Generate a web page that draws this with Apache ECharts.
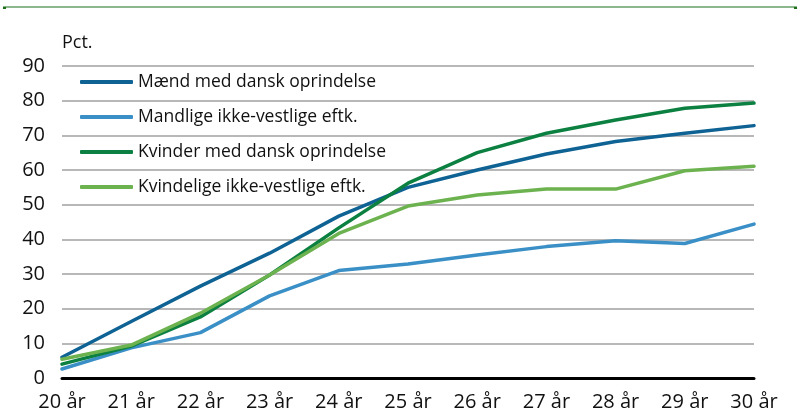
<!DOCTYPE html>
<html>
<head>
<meta charset="utf-8">
<script src="https://cdn.jsdelivr.net/npm/echarts@6/dist/echarts.min.js"></script>
<style>
  html, body { margin: 0; padding: 0; background: #fff; }
  #chart { width: 800px; height: 419px; }
</style>
</head>
<body>
<div id="chart"></div>
<script>
const ages = ['20 år', '21 år', '22 år', '23 år', '24 år', '25 år', '26 år', '27 år', '28 år', '29 år', '30 år']
const maendDansk = [6.0, 16.3, 26.5, 36.0, 46.7, 55.0, 60.0, 64.6, 68.2, 70.6, 72.8]
const maendIkkeVestlige = [2.6, 8.7, 13.1, 23.7, 31.0, 32.9, 35.5, 37.9, 39.6, 38.8, 44.4]
const kvinderDansk = [4.0, 9.2, 17.6, 29.7, 43.3, 56.2, 65.0, 70.6, 74.4, 77.8, 79.3]
const kvinderIkkeVestlige = [5.4, 9.5, 18.7, 29.7, 41.7, 49.6, 52.8, 54.5, 54.5, 59.8, 61.1]

const font = 'Open Sans'
const lineDefault = {
  type: 'line',
  symbol: 'none',
  smooth: false,
}
const mk = (name, data, color) => ({
  ...lineDefault,
  name,
  data,
  color,
  lineStyle: { width: 3.5, color, cap: 'round' },
})

const chart = echarts.init(document.getElementById('chart'))
chart.setOption({
  animation: false,
  textStyle: { fontFamily: font },
  grid: { left: 62, right: 46, top: 66, bottom: 41 },
  legend: {
    show: true,
    orient: 'vertical',
    left: 80,
    top: 72,
    padding: 0,
    itemWidth: 53,
    itemHeight: 4,
    itemGap: 15,
    icon: 'roundRect',
    textStyle: { fontFamily: font, fontSize: 17.5, color: '#111', height: 20, lineHeight: 20 },
  },
  xAxis: {
    type: 'category',
    data: ages,
    boundaryGap: false,
    axisLine: { lineStyle: { color: '#000', width: 3 } },
    axisTick: { show: false },
    axisLabel: { color: '#111', fontSize: 20, margin: 14 },
  },
  yAxis: {
    type: 'value',
    min: 0,
    max: 90,
    interval: 10,
    name: 'Pct.',
    nameLocation: 'end',
    nameGap: 14,
    nameTextStyle: { color: '#111', fontSize: 18, align: 'left', padding: [0, 0, 0, 0] },
    axisLine: { show: false },
    axisTick: { show: false },
    axisLabel: { color: '#111', fontSize: 20, margin: 17 },
    splitLine: { lineStyle: { color: '#a0a0a0', width: 1.5 } },
  },
  graphic: [
    { type: 'line', shape: { x1: 3, y1: 7, x2: 797, y2: 7 }, style: { stroke: '#1a6e1a', lineWidth: 1 } },
    { type: 'rect', shape: { x: 3, y: 7, width: 3, height: 2 }, style: { fill: '#1a6e1a' } },
    { type: 'rect', shape: { x: 794, y: 7, width: 3, height: 2 }, style: { fill: '#1a6e1a' } },
  ],
  series: [
    mk('Mænd med dansk oprindelse', maendDansk, '#0f6394'),
    mk('Mandlige ikke-vestlige eftk.', maendIkkeVestlige, '#3a90c6'),
    mk('Kvinder med dansk oprindelse', kvinderDansk, '#0b8040'),
    mk('Kvindelige ikke-vestlige eftk.', kvinderIkkeVestlige, '#6cb24f'),
  ],
})
</script>
</body>
</html>
